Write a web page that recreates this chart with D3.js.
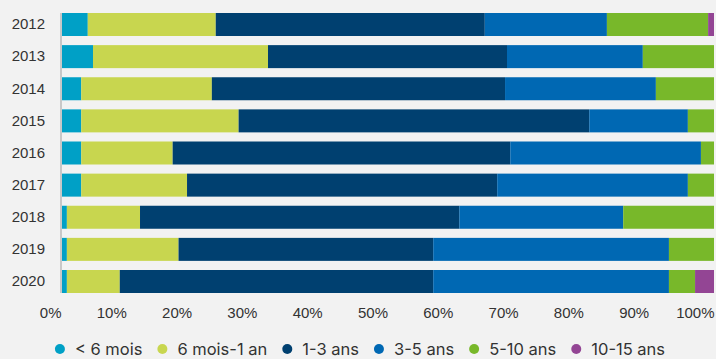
<!DOCTYPE html>
<html lang="fr">
<head>
<meta charset="utf-8" />
<script src="https://d3js.org/d3.v7.min.js"></script>
<style>
  body { margin: 0; background: #f2f2f2; }
  svg { display: block; font-family: Inter, Roboto, sans-serif; }
  .tick text { fill: #333; font-size: 15px; }
  .legend text { fill: #333; font-size: 16.5px; }
</style>
</head>
<body>
<div id="chart"></div>
<script>
// years and age groups (shares in %)
var years = ["2012", "2013", "2014", "2015", "2016", "2017", "2018", "2019", "2020"];
var groups = ["< 6 mois", "6 mois-1 an", "1-3 ans", "3-5 ans", "5-10 ans", "10-15 ans"];
var colors = ["#00a0c6", "#c8d64f", "#004070", "#0068b3", "#78b82a", "#934594"];

var lt6m   = [4.1, 4.9, 3.1, 3.1, 3.1, 3.1, 0.9, 0.9, 0.9];
var m6to1  = [19.6, 26.8, 20.0, 24.1, 14.0, 16.2, 11.2, 17.1, 8.1];
var y1to3  = [41.2, 36.6, 44.9, 53.7, 51.7, 47.5, 48.9, 39.0, 48.0];
var y3to5  = [18.7, 20.8, 23.1, 15.1, 29.2, 29.2, 25.1, 36.1, 36.1];
var y5to10 = [15.5, 10.9, 8.9, 4.0, 2.0, 4.0, 13.9, 6.9, 4.0];
var y10to15 = [0.9, 0, 0, 0, 0, 0, 0, 0, 2.9];

var xTicks = [0, 10, 20, 30, 40, 50, 60, 70, 80, 90, 100];

var series = [lt6m, m6to1, y1to3, y3to5, y5to10, y10to15];
var rows = years.map(function(y, i) {
  var r = { year: y };
  groups.forEach(function(g, j) { r[g] = series[j][i]; });
  return r;
});

var width = 716, height = 359;
var plotLeft = 61, plotRight = 714, plotTop = 13, plotBottom = 293;

var svg = d3.select("#chart").append("svg")
  .attr("width", width)
  .attr("height", height);

var x = d3.scaleLinear().domain([0, 100]).range([plotLeft, plotRight]);
var y = d3.scaleBand().domain(years).range([plotTop, plotBottom]).paddingInner(0.284).paddingOuter(0);
var color = d3.scaleOrdinal().domain(groups).range(colors);

var stack = d3.stack().keys(groups)(rows);

svg.append("g").selectAll("g")
  .data(stack)
  .enter().append("g")
  .attr("fill", function(d) { return color(d.key); })
  .selectAll("rect")
  .data(function(d) { return d; })
  .enter().append("rect")
  .attr("x", function(d) { return x(d[0]); })
  .attr("width", function(d) { return x(d[1]) - x(d[0]); })
  .attr("y", function(d) { return y(d.data.year); })
  .attr("height", y.bandwidth());

// y axis line + year labels
var yAxis = svg.append("g")
  .attr("transform", "translate(" + plotLeft + ",0)")
  .call(d3.axisLeft(y).tickSize(0).tickPadding(16));
yAxis.select(".domain")
  .attr("d", "M0," + plotTop + "V" + plotBottom)
  .attr("stroke", "#c8c8c8").attr("stroke-width", 2);
yAxis.selectAll("text").attr("font-family", null).attr("font-size", null);

// x axis labels, right-aligned on the tick
var xAxis = svg.append("g")
  .attr("transform", "translate(0,318)")
  .call(d3.axisBottom(x).tickValues(xTicks).tickSize(0).tickFormat(function(d) { return d + "%"; }));
xAxis.select(".domain").remove();
xAxis.selectAll("text")
  .attr("font-family", null).attr("font-size", null)
  .attr("text-anchor", "end")
  .attr("x", 0).attr("y", 0).attr("dy", null);

// legend, centred
var legend = svg.append("g").attr("class", "legend");
var items = legend.selectAll("g").data(groups).enter().append("g");
items.append("circle").attr("r", 5).attr("cx", 5).attr("cy", -6)
  .attr("fill", function(d) { return color(d); });
items.append("text").attr("x", 20).text(function(d) { return d; });

var pos = 0;
items.each(function() {
  var w = this.getBBox().width;
  d3.select(this).attr("transform", "translate(" + pos + ",0)");
  pos += w + 15;
});
pos -= 15;
legend.attr("transform", "translate(" + ((width - pos) / 2 + 2) + ",355)");
</script>
</body>
</html>
